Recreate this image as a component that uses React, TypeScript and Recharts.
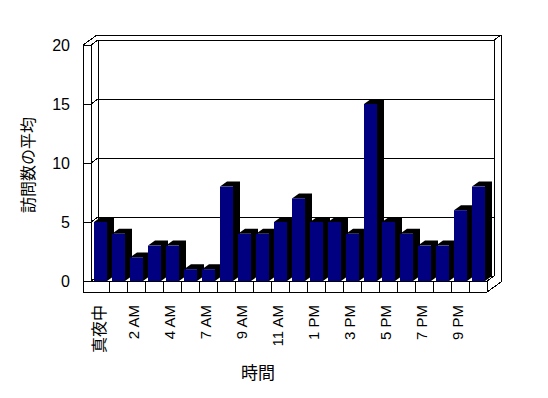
import { Bar, BarChart, CartesianGrid, Label, XAxis, YAxis } from 'recharts';

const hours = [
  '真夜中', '1 AM', '2 AM', '3 AM', '4 AM', '5 AM', '7 AM', '8 AM', '9 AM', '10 AM', '11 AM',
  '12 PM', '1 PM', '2 PM', '3 PM', '4 PM', '5 PM', '6 PM', '7 PM', '8 PM', '9 PM', '10 PM',
];
const visits = [5, 4, 2, 3, 3, 1, 1, 8, 4, 4, 5, 7, 5, 5, 4, 15, 5, 4, 3, 3, 6, 8];
const yTicks = [0, 5, 10, 15, 20];

const data = hours.map((h, i) => ({ hour: h, visits: visits[i] }));

const W = 548;
const H = 398;
// front plane of the plot box
const PLOT = { left: 91, top: 45, right: 487, bottom: 281 };
const DX = 7;
const DY = -5;
const WALL = 8;
const FLOOR = 11;
const Y_AXIS_W = 60;
const X_AXIS_H = 30;
const FONT = "'Liberation Sans', 'Noto Sans CJK JP', sans-serif";

function Bar3D(props: any) {
  const { x, y, width, height } = props;
  if (height == null || width == null) return null;
  const b = y + height;
  const side = `${x},${y} ${x + DX},${y + DY} ${x + width + DX},${y + DY} ${x + width + DX},${b + DY} ${x + width},${b} ${x + width},${y}`;
  return (
    <g>
      <polygon points={side} fill="#000000" />
      <rect x={x} y={y} width={width} height={height} fill="#000080" />
    </g>
  );
}

function GridLine(props: any) {
  const { x1, x2, y1, key } = props;
  return (
    <path
      key={key}
      d={`M${x1 - WALL},${y1} H${x1} L${x1 + DX},${y1 + DY} H${x2 + DX}`}
      stroke="#000"
      strokeWidth={1}
      fill="none"
      shapeRendering="crispEdges"
    />
  );
}

function XTick(props: any) {
  const { x, payload } = props;
  const cjk = /[^\x00-\x7f]/.test(payload.value);
  return (
    <text
      transform={`translate(${x + (cjk ? -1 : -3)},305) rotate(-90)`}
      textAnchor="end"
      dominantBaseline="central"
      fontSize={cjk ? 16 : 15}
      fontFamily={FONT}
      fill="#000"
    >
      {payload.value}
    </text>
  );
}

function YTick(props: any) {
  const { y, payload } = props;
  return (
    <text
      x={PLOT.left - 21}
      y={y}
      textAnchor="end"
      dominantBaseline="central"
      fontSize={16}
      fontFamily={FONT}
      fill="#000"
    >
      {payload.value}
    </text>
  );
}

function Frame() {
  const { left: L, top: T, right: R, bottom: B } = PLOT;
  const n = hours.length;
  const cw = (R - L) / n;
  const outer = [
    [L - WALL, B + FLOOR],
    [L - WALL, T],
    [L - WALL + 2 * DX, T + 2 * DY],
    [R + 2 * DX, T + 2 * DY],
    [R + 2 * DX, B + FLOOR + 2 * DY],
    [R, B + FLOOR],
  ]
    .map((p) => p.join(','))
    .join(' ');
  const lines: [number, number, number, number][] = [
    [L, T, L, B],
    [L + DX, T + DY, L + DX, B + DY],
    [R + DX, T + DY, R + DX, B + DY],
    [R + DX, T + DY, R + 2 * DX, T + 2 * DY],
    [L - WALL, B + FLOOR, R, B + FLOOR],
    [L, B, R, B],
    [R, B, R + DX, B + DY],
    [R, B, R, B + FLOOR],
  ];
  for (let i = 1; i < n; i++) {
    const cx = L + cw * i;
    lines.push([cx, B, cx, B + FLOOR]);
  }
  return (
    <svg
      width={W}
      height={H}
      style={{ position: 'absolute', left: 0, top: 0 }}
      shapeRendering="crispEdges"
    >
      <polygon points={outer} fill="#fff" stroke="#000" strokeWidth={1} />
      {lines.map(([a, b, c, d], i) => (
        <line key={i} x1={a} y1={b} x2={c} y2={d} stroke="#000" strokeWidth={1} />
      ))}
    </svg>
  );
}

export default function App() {
  return (
    <div
      style={{
        position: 'absolute',
        left: 0,
        top: 0,
        width: W,
        height: H,
        background: '#fff',
      }}
    >
      <Frame />
      <div style={{ position: 'absolute', left: 0, top: 0 }}>
        <BarChart
          width={W}
          height={H}
          data={data}
          margin={{
            top: PLOT.top,
            left: PLOT.left - Y_AXIS_W,
            right: W - PLOT.right,
            bottom: H - PLOT.bottom - X_AXIS_H,
          }}
        >
          <CartesianGrid horizontal={GridLine} vertical={false} />
          <XAxis
            dataKey="hour"
            interval={1}
            height={X_AXIS_H}
            axisLine={false}
            tickLine={false}
            tick={<XTick />}
          >
            <Label
              content={() => (
                <text
                  x={258}
                  y={373}
                  textAnchor="middle"
                  dominantBaseline="central"
                  fontSize={17}
                  fontFamily={FONT}
                  fill="#000"
                >
                  時間
                </text>
              )}
            />
          </XAxis>
          <YAxis
            width={Y_AXIS_W}
            domain={[0, 20]}
            ticks={yTicks}
            axisLine={false}
            tickLine={false}
            tick={<YTick />}
          >
            <Label
              content={() => (
                <text
                  transform="translate(28,165) rotate(-90)"
                  textAnchor="middle"
                  dominantBaseline="central"
                  fontSize={16}
                  fontFamily={FONT}
                  fill="#000"
                >
                  訪問数の平均
                </text>
              )}
            />
          </YAxis>
          <Bar dataKey="visits" barSize={13} shape={Bar3D} isAnimationActive={false} />
        </BarChart>
      </div>
    </div>
  );
}
